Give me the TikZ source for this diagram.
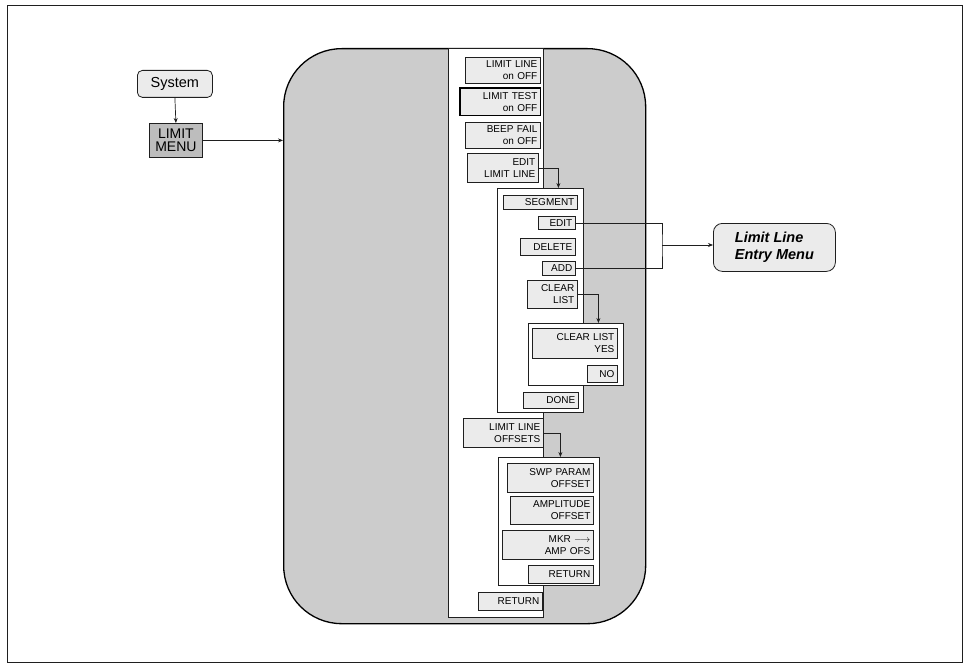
\documentclass[tikz,border=0pt]{standalone}
\usepackage{fontspec}
\setsansfont{Liberation Sans}
\usetikzlibrary{arrows.meta}
\definecolor{panelgray}{gray}{0.80}
\definecolor{btngray}{gray}{0.92}
\definecolor{menugray}{gray}{0.74}
\definecolor{inkc}{gray}{0.12}
\newcommand\mybtn[6]{\node[btn, anchor=north west, minimum width={#4-#2}, minimum height={#5-#3}, text width={#4-#2-6}] (#1) at (#2,#3) {#6};}
\newcommand\mybox[5]{\node[boxw, anchor=north west, minimum width={#4-#2}, minimum height={#5-#3}] (#1) at (#2,#3) {};}
\begin{document}
\begin{tikzpicture}[x=1pt,y=-1pt,
  every node/.style={font=\sffamily},
  btn/.style={draw=inkc, fill=btngray, line width=0.7pt, inner xsep=3pt, inner ysep=1pt, align=right,
    font=\sffamily\fontsize{10}{12}\selectfont},
  boxw/.style={draw=inkc, fill=white, line width=0.8pt, inner sep=0pt},
  conn/.style={draw=inkc, line width=0.7pt},
  arr/.style={conn, -{Stealth[length=5pt,width=4pt]}}]
\useasboundingbox (0,0) rectangle (966,666);
% outer frame
\node[draw=inkc, line width=0.8pt, anchor=north west, minimum width=955, minimum height=657, inner sep=0pt] (frame) at (7,5) {};
% big panel
\node[draw=black, fill=panelgray, line width=1.3pt, rounded corners=58pt, anchor=north west, minimum width=362, minimum height=575, inner sep=0pt] (panel) at (283,48) {};
% white column and sub panels
\mybox{col}{448}{48}{543}{617}
\mybox{segc}{497}{188}{583}{412}
\mybox{clc}{528}{323}{623}{385}
\mybox{offc}{498}{457}{599}{585}
% left boxes
\node[draw=inkc, fill=btngray, line width=0.8pt, rounded corners=5pt, anchor=north west, minimum width=75, minimum height=27, inner sep=0pt, font=\sffamily\fontsize{14.5}{15}\selectfont] (sys) at (137,70) {System};
\node[draw=inkc, fill=menugray, line width=0.8pt, anchor=north west, minimum width=53, minimum height=34, inner sep=0pt, align=center, font=\sffamily\fontsize{14}{13}\selectfont] (lm) at (149,123) {LIMIT\\MENU};
\node[draw=inkc, fill=btngray, line width=0.8pt, rounded corners=9pt, anchor=north west, minimum width=122, minimum height=48, inner sep=0pt, align=left, font=\sffamily\bfseries\itshape\fontsize{14.5}{17}\selectfont] (lle) at (713,223) {Limit Line\\Entry Menu};
% buttons
\mybtn{ll}{465}{57}{540}{83}{LIMIT LINE\\on OFF}
\mybtn{lt}{460}{88}{540}{115}{LIMIT TEST\\on OFF}
\mybtn{bf}{465}{122}{540}{148}{BEEP FAIL\\on OFF}
\mybtn{el}{467}{153}{538}{182}{EDIT\\LIMIT LINE}
\mybtn{seg}{503}{195}{577}{209}{SEGMENT}
\mybtn{edit}{538}{216}{575}{229}{EDIT}
\mybtn{del}{520}{238}{575}{255}{DELETE}
\mybtn{add}{542}{261}{575}{275}{ADD}
\mybtn{clr}{527}{280}{577}{308}{CLEAR\\LIST}
\mybtn{yes}{532}{328}{617}{358}{CLEAR LIST\\YES}
\mybtn{no}{587}{365}{617}{382}{NO}
\mybtn{done}{523}{392}{578}{408}{DONE}
\mybtn{llo}{463}{418}{543}{447}{LIMIT LINE\\OFFSETS}
\mybtn{swp}{507}{463}{593}{492}{SWP PARAM\\OFFSET}
\mybtn{amp}{510}{496}{593}{524}{AMPLITUDE\\OFFSET}
\mybtn{mkr}{502}{530}{593}{559}{MKR $\longrightarrow$\\AMP OFS}
\mybtn{reta}{528}{565}{593}{583}{RETURN}
\mybtn{retb}{478}{592}{542}{610}{RETURN}
\draw[line width=1.3pt] (lt.north west) rectangle (lt.south east);
% connectors
\draw[arr] (sys.south) -- (lm.north);
\draw[arr] (lm.east) -- (lm.east -| panel.west);
\draw[arr] (el.east) -| ([xshift=18pt]segc.north);
\draw[arr] (clr.east) -| ([xshift=22.5pt]clc.north);
\draw[arr] (llo.east) -| ([xshift=11.5pt]offc.north);
\coordinate (brk) at (662,245);
\draw[conn] (edit.east) -| (brk) |- (add.east);
\draw[arr] (brk) -- (brk -| lle.west);
\end{tikzpicture}
\end{document}
